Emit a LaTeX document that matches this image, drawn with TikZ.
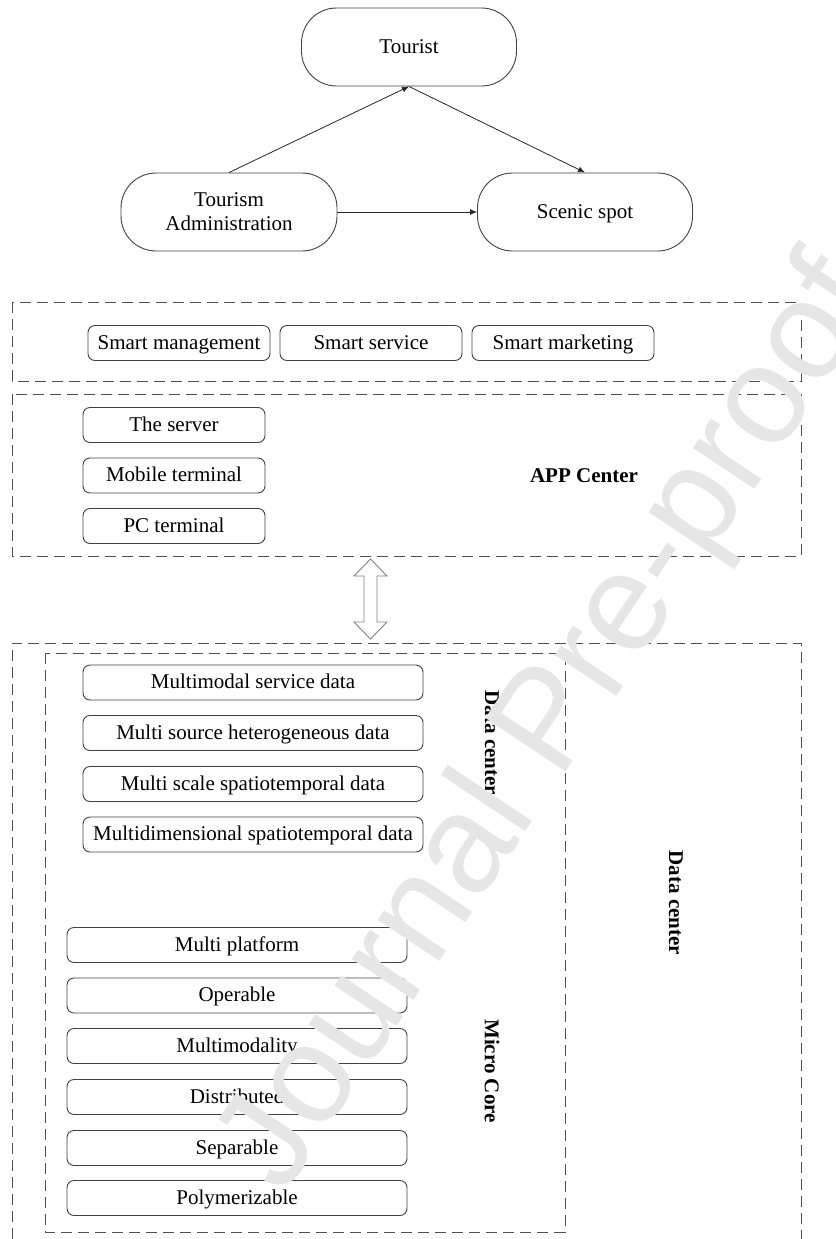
\documentclass[tikz,border=0pt]{standalone}
\usepackage{fontspec}
\setmainfont{Liberation Serif}
\newfontfamily\wmfont{Liberation Sans}
\usetikzlibrary{arrows.meta}

\definecolor{edge}{RGB}{65,65,65}
\definecolor{dashcol}{RGB}{80,80,80}
\definecolor{hollow}{RGB}{130,130,130}
\definecolor{wm}{RGB}{230,230,230}

\tikzset{
  pill/.style={draw=edge, line width=0.9pt, rounded corners=35pt, align=center,
    minimum width=215pt, minimum height=78pt, inner sep=0pt,
    font=\fontsize{21}{24}\selectfont},
  oneline/.style={text height=15.5pt, text depth=3.5pt},
  item/.style={draw=edge, line width=0.9pt, rounded corners=7pt,
    minimum height=35pt, inner sep=0pt, oneline,
    font=\fontsize{21}{24}\selectfont},
  layer/.style={draw=dashcol, line width=1pt, dash pattern=on 11pt off 6pt},
  flow/.style={draw=black!85, line width=0.8pt, -{Latex[length=7pt,width=6pt]}},
  tag/.style={font=\bfseries\fontsize{21}{24}\selectfont, inner sep=0pt},
}

\begin{document}
\begin{tikzpicture}[x=1pt,y=-1pt]
\useasboundingbox (0,0) rectangle (835,1239);

% actors
\node[pill, oneline] (tourist) at (409,47) {Tourist};
\node[pill, minimum width=216pt] (admin) at (229,212) {Tourism\\Administration};
\node[pill, oneline] (scenic) at (585,212) {Scenic spot};

\draw[flow] (admin.north) -- (tourist.south);
\draw[flow] (tourist.south) -- (scenic.north);
\draw[flow] (admin.east) -- (scenic.west);

% application layer
\draw[layer] (12,302) rectangle (801,381);
\node[item, minimum width=182pt] (mgmt) at (179,343) {Smart management};
\node[item, minimum width=182pt] (serv) at (371,343) {Smart service};
\node[item, minimum width=182pt] (mkt)  at (563,343) {Smart marketing};

% app center
\draw[layer] (12,394) rectangle (801,556);
\node[item, minimum width=182pt] (server) at (174,425) {The server};
\node[item, minimum width=182pt] (mobile) at (174,475.5) {Mobile terminal};
\node[item, minimum width=182pt] (pc)     at (174,526) {PC terminal};
\node[tag] (app) at (584,476) {APP Center};

% hollow two-way arrow between app center and data center
\coordinate (up) at (370.5,559);
\coordinate (down) at (370.5,639);
\draw[draw=hollow, line width=0.9pt, fill=white, line join=miter]
  (up) -- ++(16.5,17) -- ++(-10,0) -- ++(0,46) -- ++(10,0) -- (down)
  -- ++(-16.5,-17) -- ++(10,0) -- ++(0,-46) -- ++(-10,0) -- cycle;

% data center (open at the bottom edge)
\draw[layer] (12,1239) -- (12,643) -- (801,643) -- (801,1239);
\node[tag, rotate=-90] (dc) at (676,903) {Data center};

% inner block
\draw[layer] (45,653) rectangle (565,1232);
\node[item, minimum width=340pt] (d1) at (253,682.5) {Multimodal service data};
\node[item, minimum width=340pt] (d2) at (253,733) {Multi source heterogeneous data};
\node[item, minimum width=340pt] (d3) at (253,784) {Multi scale spatiotemporal data};
\node[item, minimum width=340pt] (d4) at (253,834.5) {Multidimensional spatiotemporal data};
\node[tag, rotate=-90] (dcin) at (492,743) {Data center};

\node[item, minimum width=340pt] (m1) at (237,945) {Multi platform};
\node[item, minimum width=340pt] (m2) at (237,995.5) {Operable};
\node[item, minimum width=340pt] (m3) at (237,1046) {Multimodality};
\node[item, minimum width=340pt] (m4) at (237,1097) {Distributed};
\node[item, minimum width=340pt] (m5) at (237,1148) {Separable};
\node[item, minimum width=340pt] (m6) at (237,1198) {Polymerizable};
\node[tag, rotate=-90] (core) at (492,1071) {Micro Core};

% watermark
\node[text=wm, rotate=56.3, inner sep=0pt, font=\wmfont\fontsize{140}{140}\selectfont]
  (mark) at (553,726) {Journal Pre-proof};
\end{tikzpicture}
\end{document}
